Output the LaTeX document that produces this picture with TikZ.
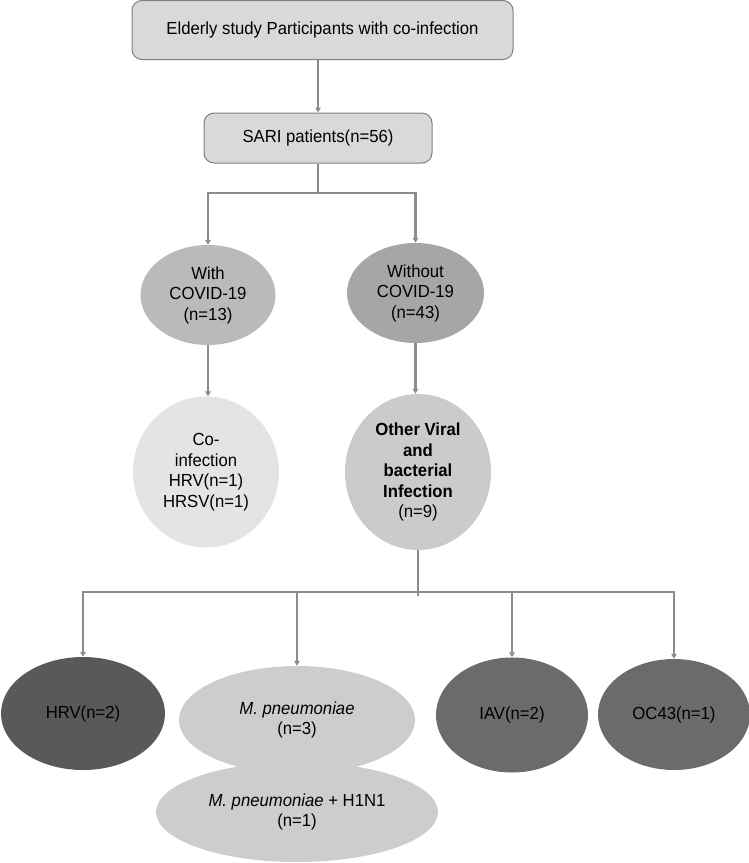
\documentclass[tikz,border=0pt]{standalone}
\usepackage{fontspec}
\setmainfont[FakeStretch=0.955]{Liberation Sans}
\usetikzlibrary{shapes.geometric,arrows.meta}
\definecolor{boxfill}{HTML}{D9D9D9}
\definecolor{boxline}{HTML}{7F7F7F}
\definecolor{connc}{HTML}{8C8C8C}
\definecolor{withc}{HTML}{BABABA}
\definecolor{withoutc}{HTML}{A6A6A6}
\definecolor{coinfc}{HTML}{E4E4E4}
\definecolor{otherc}{HTML}{CBCBCB}
\definecolor{hrvc}{HTML}{595959}
\definecolor{iavc}{HTML}{6B6B6B}
\definecolor{mpc}{HTML}{CDCDCD}
\tikzset{
  every node/.style={font=\fontsize{17.5}{20.5}\selectfont, text=black},
  boxnode/.style={rectangle, rounded corners=10pt, draw=boxline, line width=1pt, fill=boxfill, inner sep=0pt},
  ellnode/.style={ellipse, inner sep=0pt, align=center},
  conn/.style={draw=connc, line width=2.2pt},
  arr/.style={conn, -{Triangle[length=5pt,width=5.5pt]}},
}
\begin{document}
\begin{tikzpicture}[x=1pt,y=-1pt]
\useasboundingbox (0,0) rectangle (749,863);
% boxes
\node[boxnode, minimum width=381pt, minimum height=59pt] (top) at (322.5,30) {Elderly study Participants with co-infection};
\node[boxnode, minimum width=228pt, minimum height=50pt] (sari) at (318,138) {SARI patients(n=56)};
% second level
\node[ellnode, fill=withc, minimum width=135pt, minimum height=100pt] (with) at (208,295) {With\\COVID-19\\(n=13)};
\node[ellnode, fill=withoutc, minimum width=137pt, minimum height=100pt] (without) at (415.5,293) {Without\\COVID-19\\(n=43)};
% third level
\node[ellnode, fill=coinfc, minimum width=146pt, minimum height=151pt] (coinf) at (206,472) {Co-\\infection\\HRV(n=1)\\HRSV(n=1)};
\node[ellnode, fill=otherc, minimum width=146pt, minimum height=156pt] (other) at (418,472) {\textbf{Other Viral}\\\textbf{and}\\\textbf{bacterial}\\\textbf{Infection}\\(n=9)};
% bottom level
\node[ellnode, fill=hrvc, minimum width=164pt, minimum height=113pt] (hrv) at (83,713.5) {HRV(n=2)};
\node[ellnode, fill=mpc, minimum width=282pt, minimum height=100pt] (mptwo) at (297,812) {\textit{M. pneumoniae} + H1N1\\(n=1)};
\node[ellnode, fill=mpc, minimum width=236pt, minimum height=108pt] (mpone) at (297,720) {\textit{M. pneumoniae}\\(n=3)};
\node[ellnode, fill=iavc, minimum width=152pt, minimum height=115pt] (iav) at (512,715) {IAV(n=2)};
\node[ellnode, fill=iavc, minimum width=152pt, minimum height=111pt] (oc) at (674,714.5) {OC43(n=1)};
% connectors
\draw[arr] (sari.north |- top.south) -- (sari.north);
\coordinate (splitA) at (318,193);
\draw[conn] (sari.south) -- (splitA);
\draw[arr] (splitA) -| (with.north);
\draw[arr] (splitA) -| (without.north);
\draw[arr] (with.south) -- (with.south |- coinf.north);
\draw[arr] (without.south) -- (without.south |- other.north);
\coordinate (splitB) at (418,592);
\draw[conn] (other.south) -- ([yshift=-4pt]splitB);
\draw[arr] (splitB) -| (hrv.north);
\draw[arr] (splitB) -| (mpone.north);
\draw[arr] (splitB) -| (iav.north);
\draw[arr] (splitB) -| (oc.north);
\end{tikzpicture}
\end{document}
